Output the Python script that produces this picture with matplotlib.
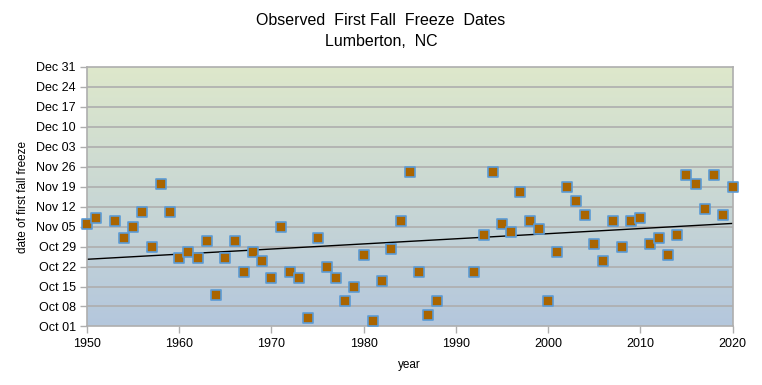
import numpy as np
import matplotlib
matplotlib.use('Agg')
import matplotlib.pyplot as plt
from matplotlib.colors import LinearSegmentedColormap

# freeze dates as days after Oct 01
years = [1950, 1951, 1953, 1954, 1955, 1956, 1957, 1958, 1959,
         1960, 1961, 1962, 1963, 1964, 1965, 1966, 1967, 1968, 1969,
         1970, 1971, 1972, 1973, 1974, 1975, 1976, 1977, 1978, 1979,
         1980, 1981, 1982, 1983, 1984, 1985, 1986, 1987, 1988,
         1992, 1993, 1994, 1995, 1996, 1997, 1998, 1999,
         2000, 2001, 2002, 2003, 2004, 2005, 2006, 2007, 2008, 2009,
         2010, 2011, 2012, 2013, 2014, 2015, 2016, 2017, 2018, 2019, 2020]
days = [36, 38, 37, 31, 35, 40, 28, 50, 40,
        24, 26, 24, 30, 11, 24, 30, 19, 26, 23,
        17, 35, 19, 17, 3, 31, 21, 17, 9, 14,
        25, 2, 16, 27, 37, 54, 19, 4, 9,
        19, 32, 54, 36, 33, 47, 37, 34,
        9, 26, 49, 44, 39, 29, 23, 37, 28, 37,
        38, 29, 31, 25, 32, 53, 50, 41, 53, 39, 49]

ytick_days = list(range(0, 92, 7))
ytick_labels = ['Oct 01', 'Oct 08', 'Oct 15', 'Oct 22', 'Oct 29', 'Nov 05', 'Nov 12',
                'Nov 19', 'Nov 26', 'Dec 03', 'Dec 10', 'Dec 17', 'Dec 24', 'Dec 31']

plt.rcParams['font.family'] = ['Liberation Sans', 'DejaVu Sans']

fig = plt.figure(figsize=(7.62, 3.85), dpi=100)
ax = fig.add_axes([0.1142, 0.152, 0.8471, 0.6748])

# gradient background, green at top to blue at bottom
grad = LinearSegmentedColormap.from_list('bg', ['#b4c7dd', '#dee8cb'])
ax.imshow(np.linspace(0, 1, 256).reshape(-1, 1), cmap=grad, aspect='auto',
          extent=[1950, 2020, 0, 91], origin='lower', zorder=0)

for d in ytick_days[1:-1]:
    ax.axhline(d, color='#aeaeae', lw=1.2, zorder=1)

# linear trend
coef = np.polyfit(years, days, 1)
xx = np.array([1950, 2020])
ax.plot(xx, np.polyval(coef, xx), color='black', lw=1, zorder=2)

ax.scatter(years, days, marker='s', s=62, facecolor='#aa6500', edgecolor='#5b9bd5',
           linewidths=1.2, zorder=3, clip_on=False)

ax.set_xlim(1950, 2020)
ax.set_ylim(0, 91)
ax.set_xticks(range(1950, 2021, 10))
ax.set_yticks(ytick_days)
ax.set_yticklabels(ytick_labels)
ax.tick_params(axis='both', labelsize=9, color='#aeaeae', length=5, width=1,
               labelcolor='black')
ax.tick_params(axis='y', pad=3)
for s in ax.spines.values():
    s.set_color('#aeaeae')
    s.set_linewidth(1.2)

ax.set_xlabel('year', fontsize=8.5, labelpad=6)
ax.set_ylabel('date of first fall freeze', fontsize=8.5, labelpad=5)

fig.text(0.5, 0.947, 'Observed  First Fall  Freeze  Dates', ha='center', va='center',
         fontsize=11.5, family=['Liberation Sans Narrow', 'Liberation Sans'])
fig.text(0.5, 0.893, 'Lumberton,  NC', ha='center', va='center',
         fontsize=11.5, family=['Liberation Sans Narrow', 'Liberation Sans'])

fig.savefig('out.png', dpi=100)
